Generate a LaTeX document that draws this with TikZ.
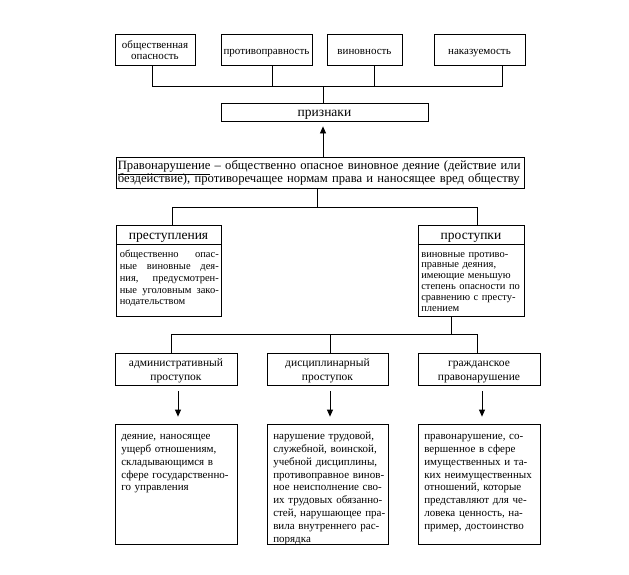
\documentclass[tikz,border=0pt]{standalone}
\usepackage{fontspec}
\setmainfont{Liberation Serif}
\usetikzlibrary{arrows.meta,calc}
\newcommand\fs[2]{\fontsize{#1}{#2}\selectfont\lineskiplimit=-100pt\lineskip=0pt}
\newcommand\jline[1]{\leavevmode\hbox to 99pt{#1}}
\begin{document}
\begin{tikzpicture}[x=1pt,y=-1pt]
\tikzset{
  box/.style={draw,line width=0.8pt,inner sep=0pt,align=center,
    execute at begin node={\rule{0pt}{12pt}},
    execute at end node={\rule[-3pt]{0pt}{3pt}}},
  ln/.style={line width=0.8pt},
  arr/.style={line width=0.8pt,-{Triangle[length=7pt,width=6pt]}},
  ftop/.style={font=\fs{11}{11}},
  fbig/.style={font=\fs{13.5}{13.5}},
  fmain/.style={font=\fs{12.65}{12.6}},
  fmid/.style={font=\fs{11.5}{13.5}},
  fsmA/.style={font=\fs{10.5}{11.7}},
  fsmB/.style={font=\fs{10.5}{10.8}},
  fbody/.style={font=\fs{11}{12.9}},
  txt/.style={anchor=north west,inner sep=0pt,align=left,
    execute at begin node=\strut,execute at end node=\strut},
}
\useasboundingbox (0,0) rectangle (629,574);
% top boxes
\node[box,ftop,minimum width=80pt,minimum height=31pt,text width=78pt] (t1) at (155,49.5) {\mbox{общественная}\\\mbox{опасность}};
\node[box,ftop,minimum width=91pt,minimum height=31pt] (t2) at (266.5,49.5) {противоправность};
\node[box,ftop,minimum width=75pt,minimum height=31pt] (t3) at (364.5,49.5) {виновность};
\node[box,ftop,minimum width=91pt,minimum height=31pt] (t4) at (479.5,49.5) {наказуемость};
\node[box,fbig,minimum width=207pt,minimum height=18pt] (pr) at (324.5,112) {признаки};
\coordinate (b1) at (152,86);
\coordinate (b2) at (272,86);
\coordinate (b3) at (374,86);
\coordinate (b4) at (502,86);
\coordinate (b0) at (323,86);
\draw[ln] (b1 |- t1.south) -- (b1) -- (b4) -- (b4 |- t4.south);
\draw[ln] (b2 |- t2.south) -- (b2);
\draw[ln] (b3 |- t3.south) -- (b3);
\draw[ln] (b0) -- (b0 |- pr.north);
% main box
\node[box,minimum width=408pt,minimum height=31pt] (main) at (320,172.5) {};
\node[txt,fmain,text width=404pt] (maint) at ($(main.north west)+(2,4)$)
  {\mbox{\underline{Правонарушение} – общественно опасное виновное деяние (действие или}\\\mbox{бездействие), противоречащее нормам права и наносящее вред обществу}};
\draw[arr,shorten >=5pt] (main.north -| b0) -- (pr.south -| b0);
% split
\coordinate (s0) at (317,207);
\coordinate (s1) at (172,207);
\coordinate (s2) at (477,207);
\node[box,fbig,minimum width=105pt,minimum height=19pt] (plh) at (168.5,234.5) {преступления};
\node[box,minimum width=105pt,minimum height=72pt] (plb) at (168.5,280) {};
\node[box,fbig,minimum width=106pt,minimum height=19pt] (psh) at (471,234.5) {проступки};
\node[box,minimum width=106pt,minimum height=72pt] (psb) at (471,280) {};
\draw[ln] (main.south -| s0) -- (s0);
\draw[ln] (s1 |- plh.north) -- (s1) -- (s2) -- (s2 |- psh.north);
\node[txt,fsmA,text width=99pt] (plt) at ($(plb.north west)+(4,6)$)
 {\jline{общественно\hfill опас-}\\
  \jline{ные\hfill виновные\hfill дея-}\\
  \jline{ния,\hfill предусмотрен-}\\
  \jline{ные\hfill уголовным\hfill зако-}\\
  нодательством};
\node[txt,fsmB,text width=101pt] (pst) at ($(psb.north west)+(3.5,5.8)$)
 {виновные противо-\\правные деяния,\\имеющие меньшую\\степень опасности по\\сравнению с престу-\\плением};
% second split
\coordinate (r0) at (451,334);
\coordinate (r1) at (171,334);
\coordinate (r2) at (330,334);
\coordinate (r3) at (477,334);
\node[box,fmid,minimum width=122pt,minimum height=32pt,text width=120pt] (a) at (176,369) {административный\\проступок};
\node[box,fmid,minimum width=121pt,minimum height=32pt,text width=119pt] (b) at (327.5,369) {дисциплинарный\\проступок};
\node[box,fmid,minimum width=122pt,minimum height=32pt,text width=120pt] (c) at (479,369) {гражданское\\правонарушение};
\draw[ln] (psb.south -| r0) -- (r0);
\draw[ln] (r1 |- a.north) -- (r1) -- (r3) -- (r3 |- c.north);
\draw[ln] (r2) -- (r2 |- b.north);
% bottom boxes
\node[box,minimum width=122pt,minimum height=120pt] (da) at (176,484) {};
\node[box,minimum width=121pt,minimum height=120pt] (db) at (327.5,484) {};
\node[box,minimum width=122pt,minimum height=120pt] (dc) at (479,484) {};
\coordinate (q1) at (178,400);
\coordinate (q2) at (330,400);
\coordinate (q3) at (482,400);
\draw[arr,shorten <=6pt,shorten >=7pt] (a.south -| q1) -- (da.north -| q1);
\draw[arr,shorten <=6pt,shorten >=7pt] (b.south -| q2) -- (db.north -| q2);
\draw[arr,shorten <=6pt,shorten >=7pt] (c.south -| q3) -- (dc.north -| q3);
\node[txt,fbody,text width=114pt] (dat) at ($(da.north west)+(6.5,6.5)$)
 {деяние, наносящее\\ущерб отношениям,\\складывающимся в\\сфере государственно-\\го управления};
\node[txt,fbody,text width=114pt] (dbt) at ($(db.north west)+(6.5,6.5)$)
 {нарушение трудовой,\\служебной, воинской,\\учебной дисциплины,\\противоправное винов-\\ное неисполнение сво-\\их трудовых обязанно-\\стей, нарушающее пра-\\вила внутреннего рас-\\порядка};
\node[txt,fbody,text width=114pt] (dct) at ($(dc.north west)+(6.5,6.5)$)
 {правонарушение, со-\\вершенное в сфере\\имущественных и та-\\ких неимущественных\\отношений, которые\\представляют для че-\\ловека ценность, на-\\пример, достоинство};
\end{tikzpicture}
\end{document}
